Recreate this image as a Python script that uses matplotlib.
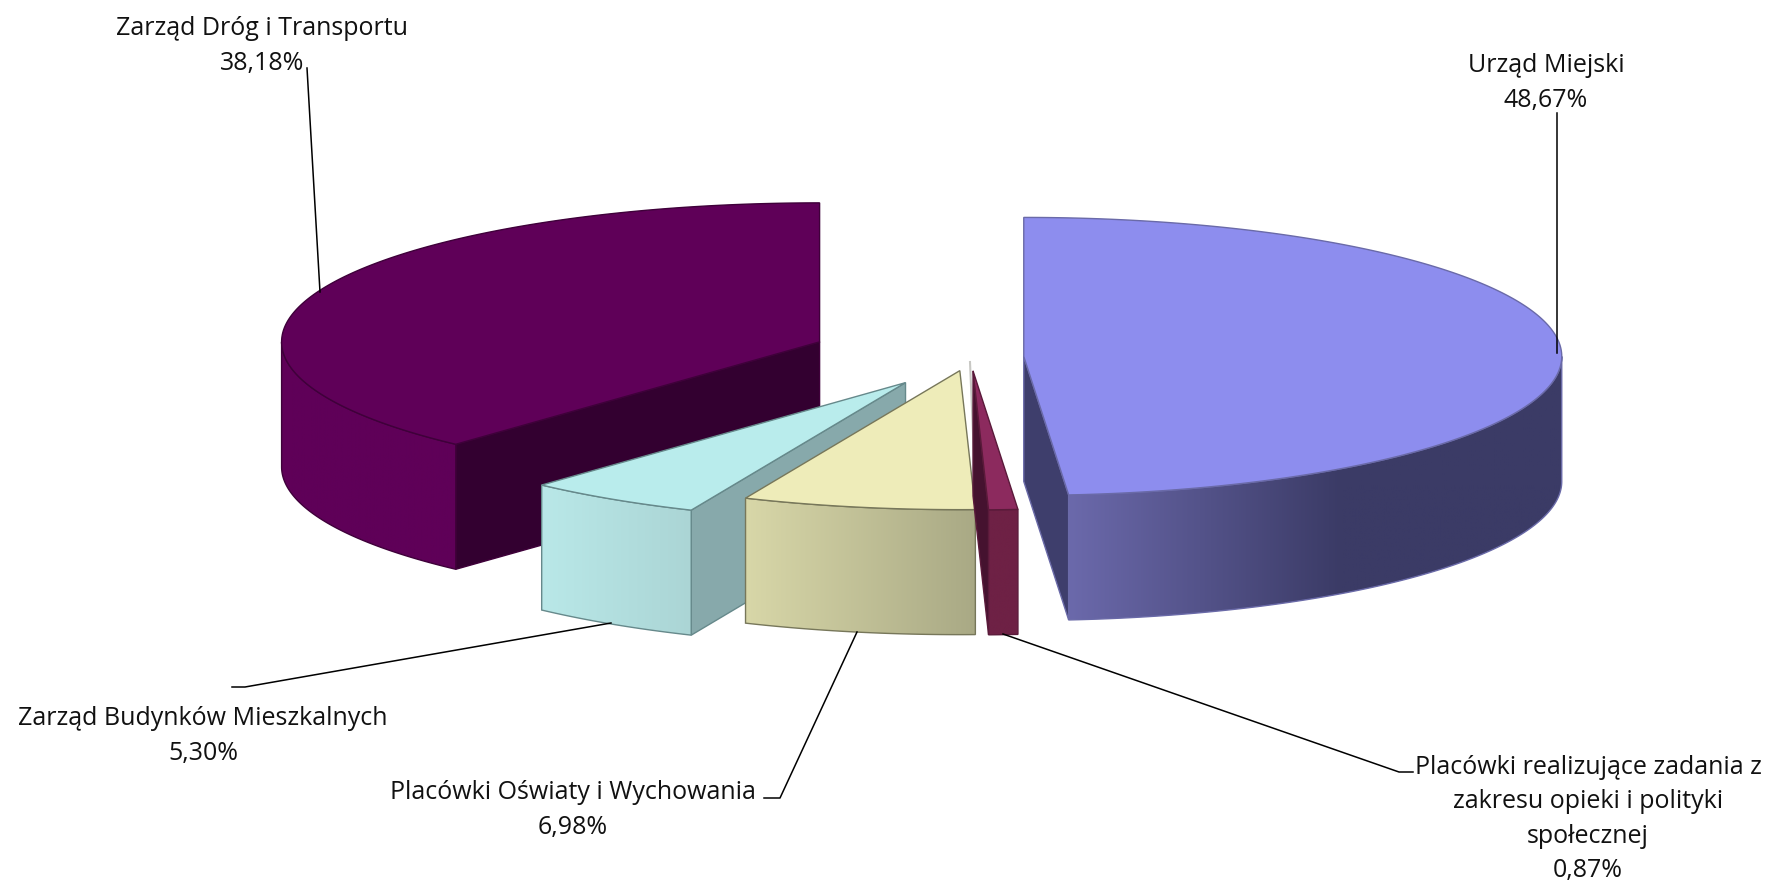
import numpy as np
import matplotlib
matplotlib.use('Agg')
import matplotlib.pyplot as plt
from matplotlib.colors import to_rgb
from matplotlib.patches import Polygon

# data
categories = ['Urząd Miejski',
              'Placówki realizujące zadania z\nzakresu opieki i polityki\nspołecznej',
              'Placówki Oświaty i Wychowania',
              'Zarząd Budynków Mieszkalnych',
              'Zarząd Dróg i Transportu']
values = [48.67, 0.87, 6.98, 5.30, 38.18]

# look of each slice, same order as categories
explode = [0.10, 0.10, 0.10, 0.22, 0.30]
top_colors = ['#8d8dee', '#8c2a5e', '#eeecb9', '#b9ecec', '#5f0058']
cut_colors = ['#3e3e6c', '#45122f', '#b8b78f', '#87a9ab', '#330030']
rim_left = ['#6b69ab', '#6e2145', '#d8d7a8', '#b9e8e8', '#5f0058']
rim_right = ['#3b3b66', '#6e2145', '#a9a985', '#abd5d5', '#5f0058']
rim_stop = [0.55, 1.0, 1.0, 1.0, 1.0]
edge_colors = ['#6a6aa8', '#5a1a3a', '#77775a', '#66898b', '#3f003a']

# label centres and leader lines in figure pixels
label_pos = [(1546, 83), (1588, 819), (573, 810), (203, 736), (262, 46)]
leaders = [[(1557, 113), (1557, 353)],
           [(1003, 634), (1399, 772), (1413, 772)],
           [(857, 632), (780, 798), (764, 798)],
           [(611, 623), (245, 687), (232, 687)],
           [(307, 68), (320, 292)]]

# pie geometry
cx, cy = 970, 357
rx, ry = 538, 139
depth = 125


def ring(x0, y0, a, b):
    # points on the ellipse, angles clockwise from the top
    t = np.radians(np.linspace(a, b, max(int(abs(b - a) * 2), 2)))
    return np.column_stack([x0 + rx * np.sin(t), y0 - ry * np.cos(t)])


plt.rcParams['font.family'] = ['Open Sans', 'DejaVu Sans']
fig = plt.figure(figsize=(17.72, 8.82), dpi=100)
ax = fig.add_axes([0, 0, 1, 1])

angles = np.concatenate([[0], np.cumsum(values) / np.sum(values) * 360])
down = np.array([0, depth])

# back to front
for n, i in enumerate([4, 3, 2, 1, 0]):
    a, b = angles[i], angles[i + 1]
    mid = np.radians((a + b) / 2)
    x0 = cx + explode[i] * rx * np.sin(mid)
    y0 = cy - explode[i] * ry * np.cos(mid)
    apex = np.array([x0, y0])
    edge = dict(edgecolor=edge_colors[i], linewidth=1.0)
    z = n + 2

    # cut faces that look towards the viewer
    if np.sin(np.radians(a)) < -1e-6:
        p = ring(x0, y0, a, a + 0.01)[0]
        ax.add_patch(Polygon([apex, p, p + down, apex + down], facecolor=cut_colors[i], zorder=z, **edge))
    if np.sin(np.radians(b)) > 1e-6:
        p = ring(x0, y0, b, b + 0.01)[0]
        ax.add_patch(Polygon([apex, p, p + down, apex + down], facecolor=cut_colors[i], zorder=z, **edge))

    # outer wall, only the front half of the ellipse shows
    lo, hi = max(a, 90), min(b, 270)
    if hi > lo:
        arc = ring(x0, y0, lo, hi)
        wall = np.vstack([arc, (arc + down)[::-1]])
        patch = Polygon(wall, facecolor='none', zorder=z + 0.2, **edge)
        ax.add_patch(patch)
        xmin, xmax = wall[:, 0].min(), wall[:, 0].max()
        ymin, ymax = wall[:, 1].min(), wall[:, 1].max()
        f = np.clip(np.linspace(0, 1, 256) / rim_stop[i], 0, 1)[None, :, None]
        grad = (1 - f) * np.array(to_rgb(rim_left[i])) + f * np.array(to_rgb(rim_right[i]))
        im = ax.imshow(grad, extent=[xmin, xmax, ymax, ymin], aspect='auto', zorder=z + 0.1)
        im.set_clip_path(patch)

    # top face
    top = np.vstack([apex, ring(x0, y0, a, b)])
    ax.add_patch(Polygon(top, facecolor=top_colors[i], zorder=z + 0.3, **edge))

# thin light line left of the smallest slice
ax.plot([970, 976], [362, 505], color='#c8c8c4', lw=1.5, zorder=4.5)

for i, name in enumerate(categories):
    ax.plot(*zip(*leaders[i]), color='black', lw=1.1, zorder=8)
    pct = f'{values[i]:.2f}'.replace('.', ',') + '%'
    ax.text(label_pos[i][0], label_pos[i][1], name + '\n' + pct, ha='center', va='center',
            fontsize=18, linespacing=1.5, color='#111111', zorder=9)

ax.set_xlim(0, 1772)
ax.set_ylim(882, 0)
ax.axis('off')
fig.savefig('out.png', dpi=100)
